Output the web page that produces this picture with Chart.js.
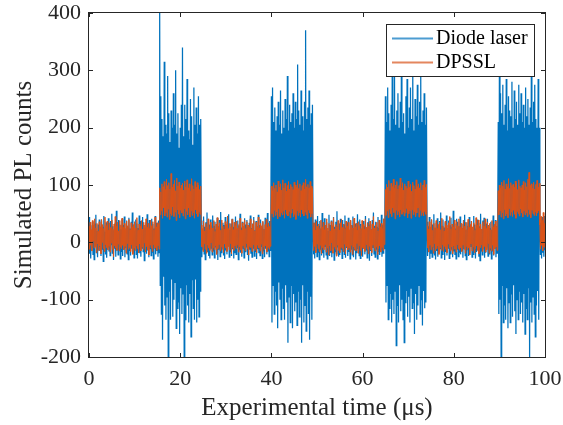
<!DOCTYPE html>
<html>
<head>
<meta charset="utf-8">
<script src="https://cdn.jsdelivr.net/npm/chart.js@4/dist/chart.umd.min.js"></script>
<style>
  html, body { margin: 0; padding: 0; background: #ffffff; }
  #wrap { width: 563px; height: 425px; }
</style>
</head>
<body>
<div id="wrap"><canvas id="c" width="563" height="425"></canvas></div>
<script>
// ---- Data ----
const sampleStepUs = 0.125;              // sampling interval of the simulated trace (µs)
const xTickValues = [0, 20, 40, 60, 80, 100];
const yTickValues = [-200, -100, 0, 100, 200, 300, 400];
const seriesLabels = ['Diode laser', 'DPSSL'];

// Simulated PL counts, diode laser excitation
const diodeLaser = [
  // 0 - 15.375 us
  44,-20,30,-28,18,-10,36,-22,25,-30,
  33,-5,48,-18,20,-26,31,-8,40,-15,
  22,-24,38,-12,27,-33,46,-6,19,-21,
  35,-27,29,-9,42,-16,24,-23,37,-4,
  50,-19,28,-31,21,-11,34,-25,55,-14,
  26,-22,39,-7,31,-29,23,-17,41,-24,
  30,-12,45,-26,20,-9,38,-20,27,-30,
  43,-15,24,-23,36,-11,52,-18,29,-27,
  21,-8,40,-21,33,-28,25,-13,47,-19,
  37,-25,23,-10,44,-16,30,-32,26,-7,
  35,-20,49,-14,22,-26,39,-12,28,-23,
  41,-17,32,-29,24,-9,46,-21,34,-15,
  27,-25,38,-18,
  // pulse 1 : 15.5 - 24.5 us
  400,-75,255,-125,215,-170,185,-60,315,-110,
  205,-135,190,-95,290,-200,225,-85,175,-135,
  230,-65,200,-130,260,-100,205,-70,300,-150,
  190,-115,225,-105,165,-160,200,-80,240,-125,
  340,-90,185,-200,240,-135,215,-75,285,-110,
  195,-140,180,-90,250,-165,220,-65,170,-115,
  270,-135,205,-65,235,-140,190,-100,255,-130,
  205,-85,215,
  // 24.625 - 39.875 us
  38,-26,22,-12,45,-20,27,-30,35,-8,
  52,-17,25,-24,31,-28,40,-11,21,-22,
  47,-15,29,-27,36,-9,23,-19,43,-31,
  28,-13,39,-25,53,-18,24,-10,34,-23,
  30,-29,44,-14,26,-21,37,-6,49,-26,
  22,-16,33,-24,41,-12,27,-28,35,-19,
  45,-21,24,-9,38,-30,29,-14,50,-18,
  26,-25,36,-11,23,-27,42,-16,31,-8,
  39,-22,27,-32,34,-13,47,-20,25,-26,
  33,-10,44,-24,21,-17,37,-29,28,-12,
  48,-19,30,-23,40,-7,26,-28,35,-15,
  23,-26,43,-11,32,-21,51,-16,29,-25,
  37,-14,45,
  // pulse 2 : 40 - 49 us
  255,-140,270,-75,210,-125,235,-85,195,-110,
  220,-150,245,-70,205,-100,265,-135,190,-80,
  230,-115,200,-135,250,-75,215,-105,290,-175,
  195,-95,240,-140,210,-75,225,-150,260,-90,
  200,-120,245,-105,215,-145,310,-85,230,-130,
  205,-100,265,-175,220,-75,195,-140,245,-110,
  370,-155,215,-85,235,-125,265,-170,205,-95,
  225,-135,240,
  // 49.125 - 64.875 us
  34,-21,27,-28,40,-10,23,-25,46,-17,
  29,-30,37,-12,24,-23,51,-19,31,-27,
  42,-8,25,-22,35,-29,20,-14,48,-24,
  30,-18,38,-26,22,-11,44,-31,27,-16,
  36,-20,54,-9,28,-25,33,-22,41,-13,
  24,-28,39,-15,31,-21,47,-27,26,-10,
  35,-24,43,-17,21,-29,38,-12,30,-22,
  45,-26,25,-14,33,-30,27,-19,49,-11,
  22,-23,40,-28,32,-16,24,-25,37,-9,
  28,-21,46,-13,26,-27,35,-18,42,-32,
  31,-15,23,-24,39,-10,52,-20,29,-26,
  36,-12,27,-29,44,-17,25,-22,33,-14,
  48,-25,30,-19,41,-11,37,
  // pulse 3 : 65 - 74 us
  255,-105,210,-75,270,-135,225,-115,195,-90,
  240,-140,320,-100,215,-125,290,-85,205,-180,
  230,-110,260,-140,200,-75,245,-120,300,-100,
  210,-135,225,-175,190,-105,255,-85,285,-130,
  200,-95,235,-140,270,-80,215,-115,310,-105,
  195,-160,250,-90,220,-135,275,-110,205,-75,
  245,-125,295,-100,210,-145,230,-85,260,-115,
  205,-105,235,
  // 74.125 - 89.625 us
  36,-24,28,-12,44,-29,22,-19,39,-26,
  31,-9,49,-22,25,-30,34,-15,42,-25,
  23,-18,37,-11,52,-27,29,-21,40,-14,
  26,-31,35,-17,47,-23,21,-10,38,-28,
  30,-20,43,-13,27,-26,55,-16,33,-22,
  24,-29,41,-12,36,-25,28,-18,45,-21,
  32,-15,25,-27,39,-11,48,-23,22,-30,
  35,-14,29,-24,44,-19,27,-8,37,-26,
  21,-21,46,-13,31,-28,24,-17,40,-10,
  34,-25,28,-32,50,-15,23,-22,38,-12,
  43,-27,26,-18,33,-9,41,-24,30,-20,
  25,-13,36,-29,22,-16,47,-23,31,-11,
  39,-26,28,-19,42,
  // pulse 4 : 89.75 - 98.75 us
  210,-125,300,-100,260,-200,225,-75,275,-140,
  205,-110,240,-135,285,-80,195,-150,255,-105,
  230,-140,220,-90,280,-130,200,-75,265,-120,
  215,-160,245,-100,205,-135,275,-85,225,-125,
  260,-105,210,-140,240,-90,200,-160,270,-115,
  220,-135,250,-80,205,-200,235,-105,295,-140,
  210,-95,245,-125,275,-165,215,-110,200,-85,
  285,-135,200,
  // 98.875 - 100 us
  40,-22,34,-28,44,-18,31,-25,46,-14
];

// Simulated PL counts, DPSSL excitation
const dpssl = [
  // 0 - 15.375 us
  28,-12,35,-5,22,-15,38,2,30,-10,
  41,-8,25,-18,33,-3,19,-14,36,-6,
  27,-20,40,0,31,-11,24,-16,44,-4,
  29,-9,37,-13,21,-7,34,-17,26,-1,
  39,-12,23,-25,32,-6,45,-10,28,-14,
  35,-3,20,-15,38,-8,30,-11,42,-5,
  26,-13,33,-7,24,-19,37,-2,29,-12,
  40,-9,22,-16,34,-4,27,-21,31,-10,
  36,-14,25,-6,43,-11,21,-18,32,-3,
  28,-15,38,-8,23,-12,35,-1,30,-17,
  41,-7,26,-13,33,-22,24,-5,39,-10,
  29,-16,36,-4,22,-11,44,-9,27,-14,
  34,-6,31,-12,
  // pulse 1
  95,48,88,55,102,42,97,60,106,46,
  92,52,110,44,99,58,104,40,93,50,
  120,47,96,62,101,45,108,53,90,38,
  112,57,98,49,105,43,94,56,100,51,
  103,46,91,59,107,41,97,54,109,48,
  95,60,102,44,89,55,111,47,99,52,
  93,42,106,57,96,50,104,45,100,53,
  92,49,98,
  // 24.625 - 39.875 us
  30,-8,24,-16,37,-2,20,-12,33,-19,
  27,-5,41,-10,22,-14,35,-1,29,-17,
  25,-9,38,-13,19,-6,32,-21,43,-11,
  26,-4,34,-15,21,-8,39,-12,28,-18,
  23,-3,36,-10,31,-16,46,-7,24,-13,
  33,-2,27,-20,40,-9,22,-14,35,-6,
  29,-11,37,-4,25,-17,31,-8,42,-13,
  21,-19,34,-6,28,-10,39,-15,24,-2,
  36,-12,30,-22,26,-7,41,-9,23,-16,
  32,-4,38,-14,20,-11,35,-18,27,-5,
  44,-10,25,-15,33,-3,29,-20,37,-8,
  22,-13,31,-6,40,-17,26,-9,34,-12,
  28,-7,36,
  // pulse 2
  98,50,90,44,104,56,94,47,100,53,
  88,41,107,59,96,45,102,52,91,48,
  109,55,95,42,103,57,89,49,99,46,
  106,54,93,43,101,51,97,58,92,45,
  105,49,100,40,96,55,108,47,94,52,
  102,44,90,57,99,50,104,46,93,53,
  110,48,97,42,101,56,95,51,106,44,
  98,50,94,
  // 49.125 - 64.875 us
  26,-14,34,-7,21,-18,37,-3,28,-11,
  32,-16,24,-5,39,-20,27,-9,35,-13,
  22,-4,30,-17,41,-10,25,-22,33,-6,
  20,-15,36,-1,29,-19,43,-8,23,-12,
  31,-24,27,-5,38,-14,21,-18,34,-9,
  40,-11,26,-16,32,-3,24,-20,37,-7,
  28,-13,35,-10,22,-17,39,-5,30,-21,
  25,-8,42,-12,27,-15,33,-2,21,-19,
  36,-6,29,-14,24,-23,38,-9,31,-11,
  23,-16,40,-4,26,-12,34,-20,28,-7,
  37,-13,22,-18,32,-5,45,-10,25,-15,
  30,-8,35,-21,20,-11,39,-6,27,-17,
  33,-9,24,-14,41,-4,29,
  // pulse 3
  92,47,101,55,96,43,108,58,90,50,
  103,45,97,60,110,52,94,41,100,56,
  106,48,93,54,99,44,112,57,95,49,
  104,53,91,46,102,51,98,59,94,43,
  107,50,96,55,101,42,89,57,105,48,
  99,53,93,45,109,51,97,60,102,44,
  95,56,104,47,91,52,100,46,108,54,
  96,49,101,
  // 74.125 - 89.625 us
  29,-10,23,-17,36,-5,27,-13,40,-8,
  21,-19,33,-2,26,-15,38,-11,24,-6,
  31,-21,35,-9,22,-14,42,-4,28,-16,
  20,-7,37,-12,30,-18,25,-3,34,-10,
  45,-15,23,-8,32,-20,27,-6,39,-12,
  21,-17,36,-4,29,-11,41,-14,26,-9,
  33,-16,24,-5,38,-12,28,-19,35,-7,
  22,-13,40,-10,26,-22,31,-3,37,-15,
  27,-8,34,-18,21,-11,43,-6,30,-14,
  39,-20,25,-9,32,-4,23,-16,36,-12,
  28,-7,41,-17,24,-13,35,-2,29,-19,
  33,-10,22,-15,38,-5,27,-21,31,-11,
  37,-8,26,-14,34,
  // pulse 4
  90,48,100,55,95,44,105,52,98,41,
  108,57,93,46,102,50,97,43,111,59,
  94,47,104,53,99,45,101,56,96,49,
  107,42,103,54,92,50,109,46,98,58,
  95,51,100,44,106,55,91,48,104,52,
  97,45,110,57,122,49,99,43,102,56,
  94,50,105,47,93,53,101,46,108,51,
  96,55,103,
  // 98.875 - 100 us
  30,-12,45,-5,38,-15,52,-8,33,-10
];

// ---- Chart ----
const FONT = "'Liberation Serif', 'Times New Roman', serif";
const TXT = '#262626';
const BLUE = '#0072BD';
const ORANGE = '#D95319';

const toPoints = (vals) => vals.map((v, i) => ({ x: i * sampleStepUs, y: v }));

const boxAndTicks = {
  id: 'boxAndTicks',
  afterDatasetsDraw(chart) {
    const { ctx, chartArea: a, scales } = chart;
    const L = a.left - 0.5, R = a.right + 0.5, T = a.top - 0.5, B = a.bottom + 0.5;
    const tl = 4.5;
    ctx.save();
    ctx.strokeStyle = TXT;
    ctx.lineWidth = 1;
    ctx.beginPath();
    xTickValues.forEach(v => {
      const px = Math.round(scales.x.getPixelForValue(v)) + 0.5;
      ctx.moveTo(px, B); ctx.lineTo(px, B - tl);
      ctx.moveTo(px, T); ctx.lineTo(px, T + tl);
    });
    yTickValues.forEach(v => {
      const py = Math.round(scales.y.getPixelForValue(v)) + 0.5;
      ctx.moveTo(L, py); ctx.lineTo(L + tl, py);
      ctx.moveTo(R, py); ctx.lineTo(R - tl, py);
    });
    ctx.stroke();
    ctx.strokeRect(L, T, R - L, B - T);
    ctx.restore();
  },
  afterDraw(chart) {
    // legend box (north-east, inside the axes)
    const { ctx } = chart;
    const bx = 386.5, by = 24.5, bw = 148, bh = 52;
    ctx.save();
    ctx.fillStyle = '#ffffff';
    ctx.fillRect(bx, by, bw, bh);
    ctx.strokeStyle = TXT;
    ctx.lineWidth = 1;
    ctx.strokeRect(bx, by, bw, bh);
    const rows = [38.5, 62.5];
    chart.data.datasets.forEach((ds, i) => {
      ctx.globalAlpha = 0.7;
      ctx.strokeStyle = ds.borderColor;
      ctx.lineWidth = 2;
      ctx.beginPath();
      ctx.moveTo(392, rows[i]); ctx.lineTo(433, rows[i]);
      ctx.stroke();
      ctx.globalAlpha = 1;
      ctx.fillStyle = '#000000';
      ctx.font = "20px " + FONT;
      ctx.textBaseline = 'middle';
      ctx.textAlign = 'left';
      ctx.fillText(ds.label, 436, rows[i] + 0.5);
    });
    ctx.restore();
  }
};

new Chart(document.getElementById('c'), {
  type: 'line',
  data: {
    datasets: [
      { label: seriesLabels[0], data: toPoints(diodeLaser), borderColor: BLUE, backgroundColor: BLUE,
        borderWidth: 1.25, pointRadius: 0, tension: 0, fill: false, order: 1 },
      { label: seriesLabels[1], data: toPoints(dpssl), borderColor: ORANGE, backgroundColor: ORANGE,
        borderWidth: 1, pointRadius: 0, tension: 0, fill: false, order: 0 }
    ]
  },
  options: {
    responsive: false,
    devicePixelRatio: 1,
    animation: false,
    events: [],
    layout: { padding: { left: 0, right: 18, top: 13, bottom: 0 } },
    plugins: { legend: { display: false }, tooltip: { enabled: false }, title: { display: false } },
    scales: {
      x: {
        type: 'linear', min: 0, max: 100,
        afterBuildTicks: (s) => { s.ticks = xTickValues.map(v => ({ value: v })); },
        afterFit: (s) => { s.height = 68; s.paddingLeft = 0; s.paddingRight = 0; },
        grid: { display: false, drawTicks: false },
        border: { display: false },
        ticks: { padding: 9, color: TXT, font: { family: FONT, size: 22 }, maxRotation: 0, autoSkip: false },
        title: { display: true, text: 'Experimental time (μs)', color: TXT,
                 font: { family: FONT, size: 25 }, padding: { top: 0, bottom: 2 } }
      },
      y: {
        type: 'linear', min: -200, max: 400,
        afterBuildTicks: (s) => { s.ticks = yTickValues.map(v => ({ value: v })); },
        afterFit: (s) => { s.width = 89; s.paddingTop = 0; s.paddingBottom = 0; },
        grid: { display: false, drawTicks: false },
        border: { display: false },
        ticks: { padding: 8, color: TXT, font: { family: FONT, size: 22 }, autoSkip: false },
        title: { display: true, text: 'Simulated PL counts', color: TXT,
                 font: { family: FONT, size: 25 }, padding: { top: 9, bottom: 0 } }
      }
    }
  },
  plugins: [boxAndTicks]
});
</script>
</body>
</html>
